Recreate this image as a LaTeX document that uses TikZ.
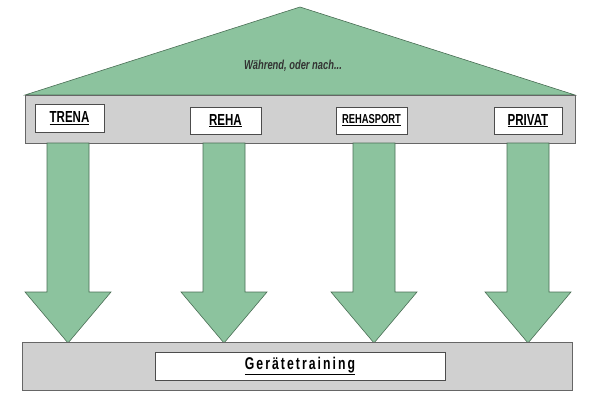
\documentclass[tikz,border=0pt]{standalone}
\usepackage{fontspec}
\setmainfont{Liberation Sans}
\definecolor{gr}{HTML}{8CC39E}
\definecolor{grd}{HTML}{4A6E55}
\definecolor{gy}{HTML}{D0D0D0}
\newcommand{\cond}[1]{\scalebox{0.72}[1]{#1}}
\begin{document}
\begin{tikzpicture}[x=1pt,y=-1pt,
  greenshape/.style={fill=gr,draw=grd,line width=0.6pt},
  beam/.style={fill=gy,draw=black!60,line width=0.8pt},
  lbl/.style={fill=white,draw=black!70,line width=0.8pt,inner sep=0pt,font=\bfseries\fontsize{16}{18}\selectfont}]
\useasboundingbox (0,0) rectangle (600,400);
\draw[greenshape] (25,95) -- (300,7) -- (575,95) -- cycle;
\node[font=\itshape\bfseries\fontsize{13}{15}\selectfont,text=black!80] (roof) at (293,66) {\cond{Während, oder nach...}};
\draw[beam] (25,95) rectangle (575,143);
\foreach \c in {68,224,374,528}{
  \draw[greenshape] (\c-21,143) -- (\c-21,292) -- (\c-43,292) -- (\c,343) -- (\c+43,292) -- (\c+21,292) -- (\c+21,143) -- cycle;
}
\draw[beam] (22,342) rectangle (572,390);
\node[lbl,minimum width=69pt,minimum height=28pt] (trena) at (69.5,118) {\cond{\underline{TRENA}}};
\node[lbl,minimum width=71pt,minimum height=27pt] (reha) at (225.5,120.5) {\cond{\underline{REHA}}};
\node[lbl,minimum width=71pt,minimum height=27pt,font=\bfseries\fontsize{13}{15}\selectfont] (rehasport) at (371.5,120.5) {\cond{\underline{REHASPORT}}};
\node[lbl,minimum width=68pt,minimum height=27pt] (privat) at (528,120.5) {\cond{\underline{PRIVAT}}};
\node[lbl,minimum width=290pt,minimum height=28pt,font=\bfseries\fontsize{17}{19}\selectfont] (geraet) at (300,366) {\underline{\cond{G\,e\,r\,ä\,t\,e\,t\,r\,a\,i\,n\,i\,n\,g}}};
\end{tikzpicture}
\end{document}
